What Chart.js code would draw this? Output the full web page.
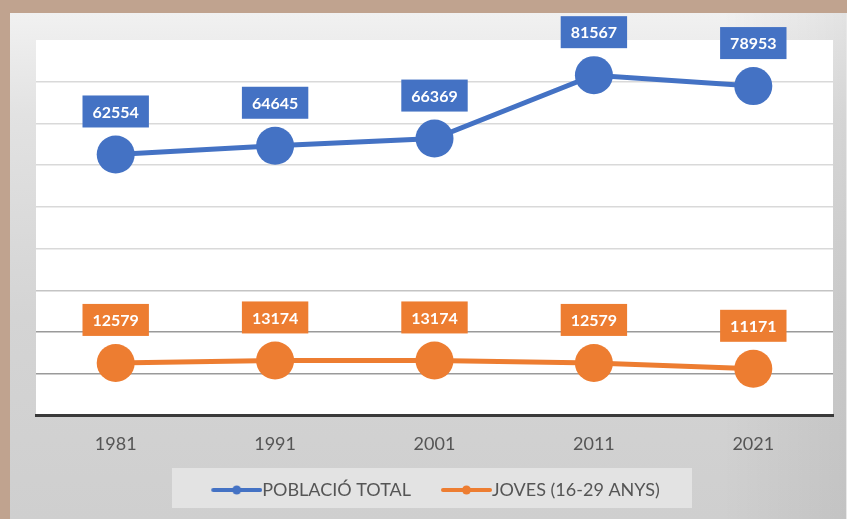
<!DOCTYPE html>
<html>
<head>
<meta charset="utf-8">
<script src="https://cdn.jsdelivr.net/npm/chart.js@4/dist/chart.umd.min.js"></script>
<style>
  html, body { margin: 0; padding: 0; }
  body { width: 847px; height: 519px; background: #c0a38f; position: relative; overflow: hidden; }
  #panel {
    position: absolute; left: 10px; top: 13px; width: 837px; height: 506px;
    background:
      linear-gradient(to right, rgba(255,255,255,0.0) 0%, rgba(255,255,255,0.0) 85%, rgba(0,0,0,0.06) 100%),
      linear-gradient(to bottom, #f1f1f1 0%, #e2e2e2 20%, #d4d4d4 60%, #cfcfcf 100%);
    box-shadow: -1px 0 0 #e8e8e8 inset;
  }
  #c { position: absolute; left: 0; top: 0; }
</style>
</head>
<body>
<div id="panel"></div>
<canvas id="c" width="847" height="519"></canvas>
<script>
const categories = ['1981', '1991', '2001', '2011', '2021'];
const poblacioTotal = [62554, 64645, 66369, 81567, 78953];
const joves = [12579, 13174, 13174, 12579, 11171];
const seriesNames = ['POBLACIÓ TOTAL', 'JOVES (16-29 ANYS)'];
const yMin = 0, yMax = 90000, yStep = 10000;

const BLUE = '#4472c4';
const ORANGE = '#ed7d31';

function legendMarker(color) {
  const c = document.createElement('canvas');
  c.width = 80; c.height = 12;
  const g = c.getContext('2d');
  g.strokeStyle = color; g.lineWidth = 4; g.lineCap = 'round';
  g.beginPath(); g.moveTo(31, 6); g.lineTo(78, 6); g.stroke();
  g.fillStyle = color;
  g.beginPath(); g.arc(54.5, 6, 4.5, 0, Math.PI * 2); g.fill();
  return c;
}
const markers = [legendMarker(BLUE), legendMarker(ORANGE)];

const bgPlugin = {
  id: 'bg',
  afterLayout(chart) {
    if (chart.legend) { chart.legend.left -= 9; chart.legend.right -= 9; }
  },
  beforeDraw(chart) {
    const { ctx, chartArea: a } = chart;
    ctx.save();
    ctx.fillStyle = '#ffffff';
    ctx.fillRect(a.left, a.top, a.right - a.left, a.bottom - a.top);
    ctx.fillStyle = '#e3e3e3';
    ctx.fillRect(172, 468, 520, 40);
    ctx.restore();
  }
};

const labelPlugin = {
  id: 'valueLabels',
  afterDatasetsDraw(chart) {
    const ctx = chart.ctx;
    ctx.save();
    ctx.font = 'bold 16px Lato';
    ctx.textAlign = 'center';
    ctx.textBaseline = 'middle';
    chart.data.datasets.forEach((ds, di) => {
      const meta = chart.getDatasetMeta(di);
      meta.data.forEach((pt, i) => {
        const txt = String(ds.data[i]);
        const w = ctx.measureText(txt).width + 20;
        const h = 32;
        const bottom = pt.y - 27;
        ctx.fillStyle = ds.borderColor;
        ctx.fillRect(pt.x - w / 2, bottom - h, w, h);
        ctx.fillStyle = '#ffffff';
        ctx.fillText(txt, pt.x, bottom - h / 2 + 1);
      });
    });
    ctx.restore();
  }
};

new Chart(document.getElementById('c'), {
  type: 'line',
  data: {
    labels: categories,
    datasets: [
      { label: seriesNames[0], data: poblacioTotal, borderColor: BLUE, backgroundColor: BLUE,
        borderWidth: 5, pointRadius: 19, pointBorderWidth: 0, pointBackgroundColor: BLUE,
        pointStyle: 'circle', tension: 0 },
      { label: seriesNames[1], data: joves, borderColor: ORANGE, backgroundColor: ORANGE,
        borderWidth: 5, pointRadius: 19, pointBorderWidth: 0, pointBackgroundColor: ORANGE,
        pointStyle: 'circle', tension: 0 }
    ]
  },
  options: {
    responsive: false,
    animation: false,
    events: [],
    layout: { autoPadding: false, padding: { left: 36, right: 14, top: 40, bottom: 10 } },
    scales: {
      x: {
        offset: true,
        grid: { display: false, drawTicks: false },
        border: { display: true, color: '#3a3a3a', width: 3 },
        ticks: { color: '#555555', font: { family: 'Lato', size: 18 }, padding: 18 },
        afterFit(scale) { scale.height -= 2; }
      },
      y: {
        min: yMin, max: yMax,
        ticks: { display: false, stepSize: yStep },
        border: { display: false },
        grid: {
          drawTicks: false,
          lineWidth: 1.5,
          color(ctx) {
            const v = ctx.tick ? ctx.tick.value : 0;
            if (v >= yMax || v <= yMin) return 'rgba(0,0,0,0)';
            if (v <= 20000) return '#9a9a9a';
            if (v <= 30000) return '#c4c4c4';
            return '#d9d9d9';
          }
        }
      }
    },
    plugins: {
      legend: {
        position: 'bottom',
        labels: {
          usePointStyle: true,
          pointStyleWidth: 62,
          boxHeight: 12,
          padding: 10,
          color: '#555555',
          font: { family: 'Lato', size: 18 },
          generateLabels(chart) {
            return chart.data.datasets.map((ds, i) => ({
              text: ds.label,
              pointStyle: markers[i],
              fillStyle: ds.borderColor,
              strokeStyle: ds.borderColor,
              lineWidth: 0,
              fontColor: '#555555',
              hidden: false,
              datasetIndex: i
            }));
          }
        }
      },
      tooltip: { enabled: false }
    }
  },
  plugins: [bgPlugin, labelPlugin]
});
</script>
</body>
</html>
